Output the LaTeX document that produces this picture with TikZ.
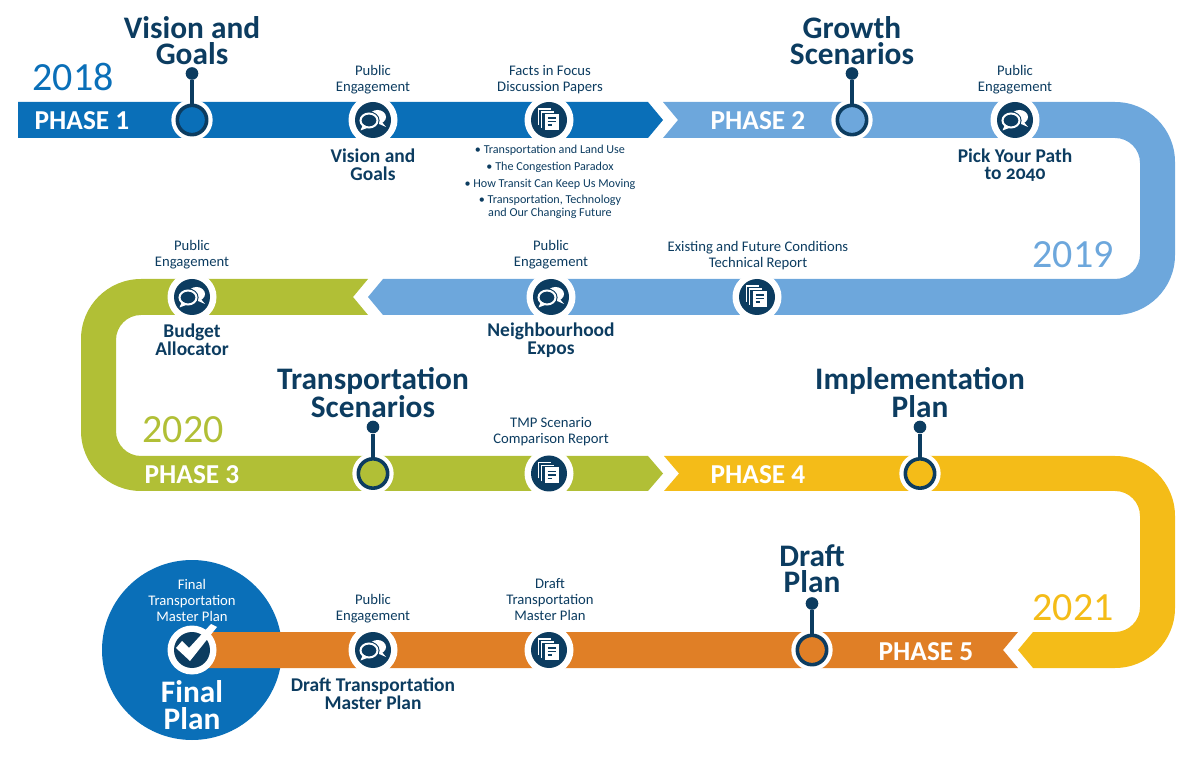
\documentclass[tikz,border=0pt]{standalone}
\usepackage{fontspec}
\setmainfont{Carlito}
\newcommand{\oldnum}[1]{{\addfontfeatures{Numbers=OldStyle}#1}}
\definecolor{navy}{HTML}{0C3C60}
\definecolor{phaseblue}{HTML}{0A6FB8}
\definecolor{phasesky}{HTML}{6DA7DC}
\definecolor{phasegreen}{HTML}{B1BF36}
\definecolor{phaseyellow}{HTML}{F4BC18}
\definecolor{phaseorange}{HTML}{E07F26}
\tikzset{
  bigtitle/.style={font=\fontsize{23.5}{19.9}\selectfont\bfseries, text=navy, align=center, inner sep=0pt},
  subtitle/.style={font=\fontsize{14.6}{13.2}\selectfont\bfseries, text=navy, align=center, inner sep=0pt},
  smalltext/.style={font=\fontsize{11}{12}\selectfont, text=navy, align=center, inner sep=0pt},
  listtext/.style={font=\fontsize{9.1}{9.8}\selectfont, text=navy, align=center, inner sep=0pt},
  phaselabel/.style={font=\fontsize{20.5}{20}\selectfont\bfseries, text=white, inner sep=0pt},
  yearlabel/.style={font=\fontsize{30}{30}\selectfont, inner sep=0pt},
  halo/.style={circle, fill=white, inner sep=0pt, minimum size=36.75pt},
  smallhalo/.style={circle, fill=white, inner sep=0pt, minimum size=31pt},
  iconbase/.style={circle, fill=navy, inner sep=0pt, minimum size=27pt},
  ring/.style={circle, draw=navy, line width=2.7pt, inner sep=0pt, minimum size=22pt},
  pindot/.style={circle, fill=navy, inner sep=0pt, minimum size=9.5pt},
  stem/.style={draw=navy, line width=2.4pt},
  talkicon/.pic={
    \fill[white] (4.5,-3) ellipse [x radius=8.5, y radius=7];
    \fill[white] (8,1) -- (13,7) -- (5,3.5) -- cycle;
    \draw[navy, line width=1.6pt, fill=navy] (-4,0.5) ellipse [x radius=9.5, y radius=8];
    \draw[white, line width=1.5pt, fill=navy] (-4,0.5) ellipse [x radius=8.5, y radius=7];
    \fill[white] (-10,4.5) -- (-12.5,10.5) -- (-4.5,7.5) -- cycle;
  },
  paperon/.style={white, line width=1.1pt},
  docicon/.pic={
    \draw[paperon] (-10.5,5) -- (-10.5,-11) -- (2,-11);
    \draw[paperon] (-7.5,8) -- (-7.5,-8) -- (5,-8);
    \fill[white] (-4.5,-6) rectangle (9.5,10);
    \draw[navy, line width=1.1pt] (-1.5,-2) -- (6.5,-2) (-1.5,1.5) -- (6.5,1.5) (-1.5,5) -- (3,5);
  },
}
\begin{document}
\begin{tikzpicture}[x=.75pt, y=-.75pt]
\useasboundingbox (0,0) rectangle (1200,773);

% final plan disc
\node[circle, fill=phaseblue, inner sep=0pt, minimum size=135pt] (finaldisc) at (192,650) {};

% bands
\fill[phaseblue] (18,102) -- (648,102) -- (663,120) -- (648,138) -- (18,138) -- cycle;
\fill[phasesky] (663,102) -- (1115,102) arc [start angle=-90, end angle=0, radius=60]
  -- (1175,255) arc [start angle=0, end angle=90, radius=60]
  -- (383,315) -- (368,297) -- (383,279) -- (1115,279) arc [start angle=90, end angle=0, radius=25]
  -- (1140,163) arc [start angle=0, end angle=-90, radius=25]
  -- (663,138) -- (678,120) -- cycle;
\fill[phasegreen] (368,279) -- (141,279) arc [start angle=-90, end angle=-180, radius=60]
  -- (81,431) arc [start angle=180, end angle=90, radius=60]
  -- (648,491) -- (663,473.5) -- (648,456) -- (141,456) arc [start angle=90, end angle=180, radius=25]
  -- (116,340) arc [start angle=180, end angle=270, radius=25]
  -- (368,315) -- (353,297) -- cycle;
\fill[phaseyellow] (664,456) -- (1115,456) arc [start angle=-90, end angle=0, radius=60]
  -- (1175,608) arc [start angle=0, end angle=90, radius=60]
  -- (1033,668) -- (1018,650) -- (1033,632) -- (1115,632) arc [start angle=90, end angle=0, radius=25]
  -- (1140,516) arc [start angle=0, end angle=-90, radius=25]
  -- (664,491) -- (679,473.5) -- cycle;
\fill[phaseorange] (1018,632) -- (1003,650) -- (1018,668) -- (205,668) -- (205,632) -- cycle;

% years and phases
\node[yearlabel, text=phaseblue] (year18) at (73,77) {2018};
\node[yearlabel, text=phasesky] (year19) at (1073,255) {2019};
\node[yearlabel, text=phasegreen] (year20) at (183,430) {2020};
\node[yearlabel, text=phaseyellow] (year21) at (1073,608) {2021};
\node[phaselabel] (phase1) at (82,121) {PHASE 1};
\node[phaselabel] (phase2) at (758,121) {PHASE 2};
\node[phaselabel] (phase3) at (192,475) {PHASE 3};
\node[phaselabel] (phase4) at (758,475) {PHASE 4};
\node[phaselabel] (phase5) at (926,652) {PHASE 5};

% milestones
\foreach \name/\x/\y/\col in {vision/192/120/phaseblue, growth/852/120/phasesky, transport/373/473.5/phasegreen, implement/920/473.5/phaseyellow, draft/812/650/phaseorange} {
  \node[smallhalo] (halo\name) at (\x,\y) {};
  \node[ring, fill=\col] (ring\name) at (\x,\y) {};
  \node[pindot] (dot\name) at (\x,\y-46.5) {};
  \draw[stem] (dot\name) -- (ring\name);
}
\node[bigtitle] (titlevision) at (192,40.5) {Vision and\\Goals};
\node[bigtitle] (titlegrowth) at (852,40.5) {Growth\\Scenarios};
\node[bigtitle] (titletransport) at (373,392.5) {Transportation\\Scenarios};
\node[bigtitle] (titleimplement) at (920,392.5) {Implementation\\Plan};
\node[bigtitle] (titledraft) at (812,568.5) {Draft\\Plan};

% engagement icons
\foreach \name/\x/\y in {talkA/373/120, talkB/1015/120, talkC/192/297, talkD/551/297, talkE/373/650} {
  \node[halo] (halo\name) at (\x,\y) {};
  \node[iconbase] (\name) at (\x,\y) {};
  \pic at (\x,\y) {talkicon};
}
% report icons
\foreach \name/\x/\y in {docA/549/120, docB/757/297, docC/549/473.5, docD/549/650} {
  \node[halo] (halo\name) at (\x,\y) {};
  \node[iconbase] (\name) at (\x,\y) {};
  \pic at (\x,\y) {docicon};
}

% labels
\node[smalltext] (pubA) at (373,80) {Public\\Engagement};
\node[smalltext] (factsfocus) at (550,80) {Facts in Focus\\Discussion Papers};
\node[smalltext] (pubB) at (1015,80) {Public\\Engagement};
\node[smalltext] (pubC) at (192,255) {Public\\Engagement};
\node[smalltext] (pubD) at (551,255) {Public\\Engagement};
\node[smalltext] (existing) at (758,256) {Existing and Future Conditions\\Technical Report};
\node[smalltext] (tmpreport) at (551,432) {TMP Scenario\\Comparison Report};
\node[smalltext] (pubE) at (373,609) {Public\\Engagement};
\node[smalltext] (draftreport) at (550,600) {Draft\\Transportation\\Master Plan};
\node[subtitle] (subvision) at (373,165) {Vision and\\Goals};
\node[subtitle] (subpath) at (1015,165) {Pick Your Path\\to \oldnum{2040}};
\node[subtitle] (subbudget) at (192,340) {Budget\\Allocator};
\node[subtitle] (subexpos) at (551,340) {Neighbourhood\\Expos};
\node[subtitle] (subdraft) at (373,694) {Draft Transportation\\Master Plan};
\node[listtext] (paperA) at (550,150) {• Transportation and Land Use};
\node[listtext] (paperB) at (550,167) {• The Congestion Paradox};
\node[listtext] (paperC) at (550,184) {• How Transit Can Keep Us Moving};
\node[listtext] (paperD) at (550,206.5) {• Transportation, Technology\\and Our Changing Future};

% final plan
\node[halo] (halofinal) at (192,650) {};
\node[iconbase] (finalbase) at (192,650) {};
\fill[white] (176,648) -- (182,641) -- (189,648) -- (211,624) -- (217,627) -- (190,661) -- cycle;
\node[smalltext, text=white] (finalsmall) at (192,600) {Final\\Transportation\\Master Plan};
\node[font=\fontsize{23.5}{20}\selectfont\bfseries, text=white, align=center, inner sep=0pt] (finaltitle) at (192,705) {Final\\Plan};
\end{tikzpicture}
\end{document}
